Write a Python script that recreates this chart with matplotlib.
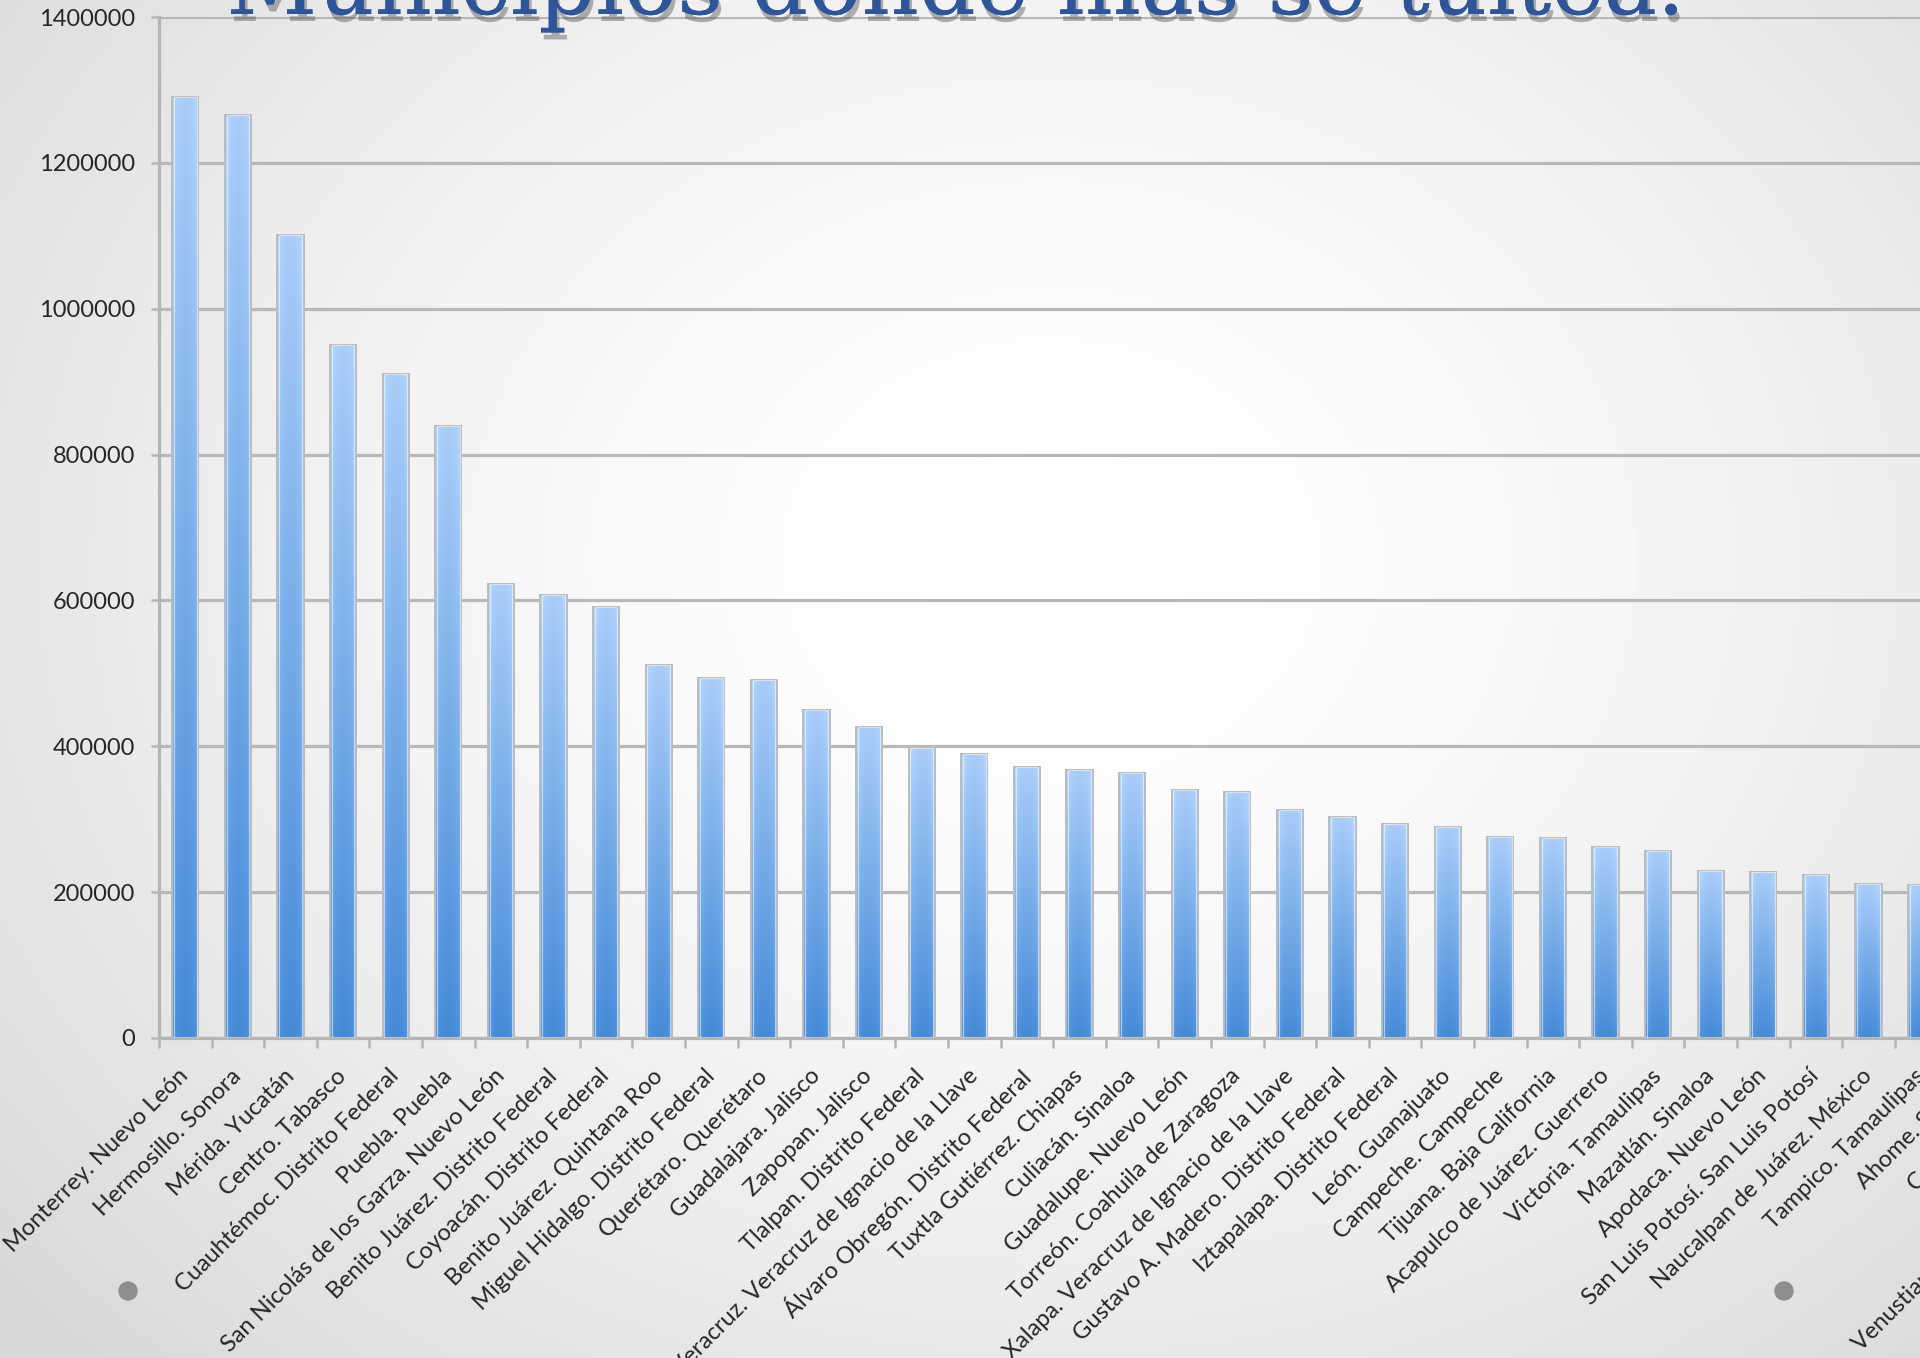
import numpy as np
import matplotlib.pyplot as plt
from matplotlib import patheffects
from matplotlib.patches import Circle

# tweets per municipality
municipios = [
    "Monterrey. Nuevo León", "Hermosillo. Sonora", "Mérida. Yucatán",
    "Centro. Tabasco", "Cuauhtémoc. Distrito Federal", "Puebla. Puebla",
    "San Nicolás de los Garza. Nuevo León", "Benito Juárez. Distrito Federal",
    "Coyoacán. Distrito Federal", "Benito Juárez. Quintana Roo",
    "Miguel Hidalgo. Distrito Federal", "Querétaro. Querétaro",
    "Guadalajara. Jalisco", "Zapopan. Jalisco", "Tlalpan. Distrito Federal",
    "Veracruz. Veracruz de Ignacio de la Llave",
    "Álvaro Obregón. Distrito Federal", "Tuxtla Gutiérrez. Chiapas",
    "Culiacán. Sinaloa", "Guadalupe. Nuevo León",
    "Torreón. Coahuila de Zaragoza",
    "Xalapa. Veracruz de Ignacio de la Llave",
    "Gustavo A. Madero. Distrito Federal", "Iztapalapa. Distrito Federal",
    "León. Guanajuato", "Campeche. Campeche", "Tijuana. Baja California",
    "Acapulco de Juárez. Guerrero", "Victoria. Tamaulipas",
    "Mazatlán. Sinaloa", "Apodaca. Nuevo León",
    "San Luis Potosí. San Luis Potosí", "Naucalpan de Juárez. México",
    "Tampico. Tamaulipas", "Ahome. Sinaloa", "Cajeme. Sonora",
    "Toluca. México", "Venustiano Carranza. Distrito Federal",
]
tuits = [
    1290000, 1266000, 1101000, 950000, 910000, 839000,
    623000, 608000, 591000, 511000, 494000, 491000,
    450000, 427000, 397000, 389000, 371000, 368000,
    364000, 340000, 338000, 313000, 303000, 293000,
    290000, 275000, 274000, 262000, 257000, 229000,
    227000, 223000, 211000, 210000, 205000, 201000,
    198000, 195000,
]
y_ticks = [0, 200000, 400000, 600000, 800000, 1000000, 1200000, 1400000]
titulo = "Municipios donde más se tuitea."

plt.rcParams['font.family'] = ['Lato', 'DejaVu Sans']

W, H = 1920, 1358
fig = plt.figure(figsize=(W / 100, H / 100), dpi=100)

# slide background: soft radial shading, white in the middle
bg = fig.add_axes([0, 0, 1, 1], zorder=0)
yy, xx = np.mgrid[0:H:2, 0:W:2]
r = np.hypot((xx - 1050) / 1150, (yy - 560) / 950)
shade = 1 - 0.115 * np.clip(r, 0, 1.2) ** 1.6
bg.imshow(shade, cmap='gray', vmin=0, vmax=1, extent=[0, W, H, 0],
          aspect='auto', interpolation='bilinear')
for cx in (128, 1784):
    bg.add_patch(Circle((cx, 1291), 9, color='#8e8e8e'))
bg.set_xlim(0, W)
bg.set_ylim(H, 0)
bg.axis('off')

# chart area (runs off the right side of the slide)
n = len(municipios)
slot = 52.6
ax = fig.add_axes([159 / W, (H - 1038) / H, n * slot / W, (1038 - 17) / H], zorder=1)
ax.patch.set_alpha(0)

x = np.arange(n)
bars = ax.bar(x, tuits, width=0.5, facecolor='none', edgecolor='#b8bcc2',
              linewidth=1.4, zorder=3)
# thin white highlight just inside each bar outline
ax.bar(x, tuits, width=0.43, facecolor='none', edgecolor='#ffffff',
       linewidth=0.8, alpha=0.55, zorder=4)

# per-bar gradient: light on top, stronger blue at the base
top = np.array([0.68, 0.82, 0.99])
bottom = np.array([0.29, 0.56, 0.86])
v = np.linspace(0, 1, 128)[:, None, None]
h = np.linspace(-1, 1, 24)[None, :, None]
grad = bottom + (top - bottom) * v
grad = np.clip(grad + 0.05 * (h ** 2) - 0.02, 0, 1)
grad = np.broadcast_to(grad, (128, 24, 3))
for b in bars:
    x0, w, hb = b.get_x(), b.get_width(), b.get_height()
    im = ax.imshow(grad, extent=[x0, x0 + w, 0, hb], aspect='auto',
                   origin='lower', interpolation='bilinear', zorder=2)
    im.set_clip_path(b)

ax.set_xlim(-0.5, n - 0.5)
ax.set_ylim(0, 1400000)

ax.set_yticks(y_ticks)
ax.set_yticklabels([str(t) for t in y_ticks])
ax.yaxis.grid(True, color='#b8b8b8', linewidth=2.3)
ax.set_axisbelow(True)

ax.set_xticks(x)
ax.set_xticklabels(municipios, rotation=45, ha='right', va='center',
                   rotation_mode='anchor')
ax.set_xticks(np.arange(n + 1) - 0.5, minor=True)

ax.tick_params(axis='y', direction='out', length=6, width=1.8, color='#b5b5b5',
               labelsize=17, labelcolor='#262626', pad=11)
ax.tick_params(axis='x', which='major', length=0, pad=25, labelsize=17,
               labelcolor='#262626')
ax.tick_params(axis='x', which='minor', direction='out', length=7, width=1.8,
               color='#b5b5b5')

for side in ('top', 'right'):
    ax.spines[side].set_visible(False)
for side in ('left', 'bottom'):
    ax.spines[side].set_color('#b5b5b5')
    ax.spines[side].set_linewidth(2.3)

fig.text(955 / W, 1 - 14 / H, titulo, ha='center', va='baseline',
         fontsize=64, family='DejaVu Serif', color='#2D5597', zorder=5,
         path_effects=[patheffects.withSimplePatchShadow(offset=(2, -5),
                                                         shadow_rgbFace='#444444',
                                                         alpha=0.4),
                       patheffects.Normal()])

fig.savefig('out.png', dpi=100)
